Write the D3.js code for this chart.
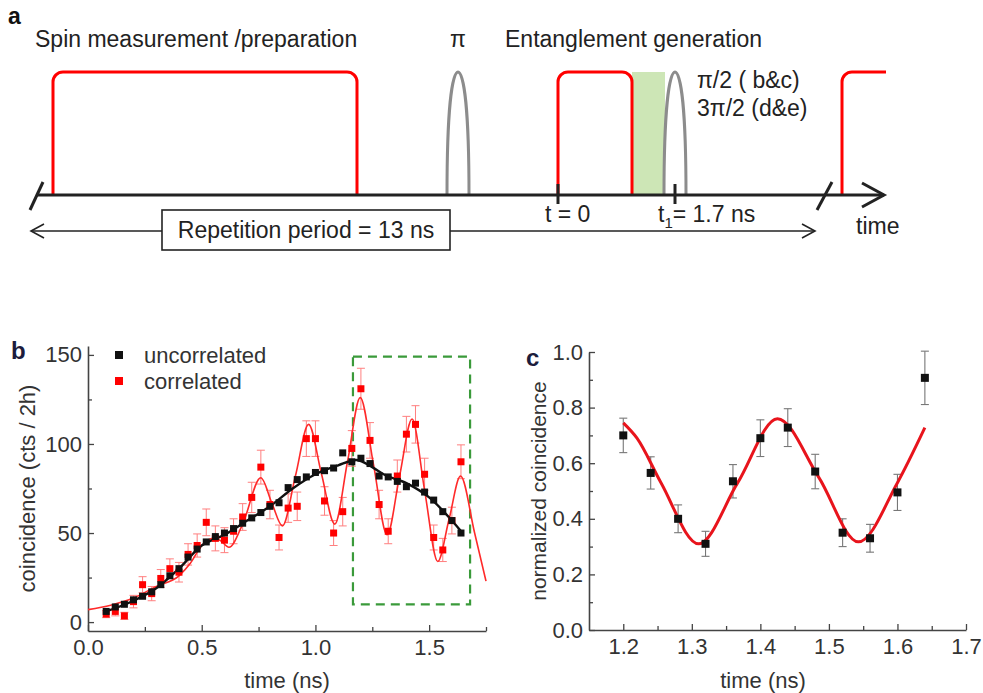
<!DOCTYPE html>
<html><head><meta charset="utf-8">
<script src="https://cdn.jsdelivr.net/npm/d3@7"></script>
<style>
body{margin:0;background:#fff;}
svg{display:block;font-family:"Liberation Sans",Arial,sans-serif;}
</style></head><body>
<svg id="fig" width="983" height="693"></svg>
<script>
// ---------- panel a: pulse sequence labels ----------
const seqTitles = ["Spin measurement /preparation", "\u03c0", "Entanglement generation"];
const rotationLabels = ["\u03c0/2 ( b&c)", "3\u03c0/2 (d&e)"];
const periodLabel = "Repetition period = 13 ns";

// ---------- panel b: coincidence counts vs time ----------
const timesB = [0.08,0.12,0.16,0.20,0.24,0.28,0.32,0.36,0.40,0.44,0.48,0.52,0.56,0.60,0.64,0.68,0.72,0.76,0.80,0.84,
                0.88,0.92,0.96,1.00,1.04,1.08,1.12,1.16,1.20,1.24,1.28,1.32,1.36,1.40,1.44,1.48,1.52,1.56,1.60,1.64];
const uncorrelated = [6,8.5,10,12.5,14.5,17,21,26,30,36.5,41,45,48,50,52.5,55.5,58.5,61.5,65,67,
                      75.5,80,81.5,84,85,86.5,95,90,92,89,82,81.5,79,76,78,73,68.5,62,57,50];
const correlated = [4.5,6,3.5,11.5,21,16,24.5,30,28,38,43,56,47,46,51,59,70,87,66,47.5,
                    64,65,103,103,68,50,62,97.5,131,102,66,51,82,105.5,111,83,47.5,40.5,57,90];
const correlatedErr = [2,2.5,2,3.5,4.5,4,5,5.5,5.5,6,6.5,7.5,7,7,7,7.5,8.5,9.5,8,7,
                       8,8,10,10,8,7,8,10,11.5,10,8,7,9,10,10.5,9,7,6.5,7.5,9.5];
// smooth fit through the uncorrelated counts
const uncorrFitT = [0.08,0.2,0.3,0.4,0.5,0.6,0.7,0.8,0.9,1.0,1.1,1.18,1.25,1.3,1.4,1.5,1.6,1.64];
const uncorrFitV = [6,12,19,30,43,49,57,65,75,83,88,91,87,83,78,70,57,51];
// oscillating fit through the correlated counts
const corrFitT = [0,0.10,0.20,0.30,0.40,0.45,0.50,0.55,0.58,0.62,0.68,0.76,0.808,0.855,0.912,0.97,1.027,1.085,
                  1.141,1.197,1.256,1.315,1.37,1.425,1.48,1.538,1.588,1.638,1.70,1.75];
const corrFitV = [7,9.5,13.5,20,26,33,43,47,46,42,55,81,67,54,82,111,83,55,90,126,88,49,82,114,74,34,58,82,50,23];
const zoomWindowT = [1.165, 1.68];
const zoomWindowV = [10, 149];
const ticksBX = [0, 0.5, 1.0, 1.5];
const minorBX = [0.25, 0.75, 1.25, 1.75];
const ticksBY = [0, 50, 100, 150];
const minorBY = [25, 75, 125];
const legendB = ["uncorrelated", "correlated"];

// ---------- panel c: normalized coincidence ----------
const timesC = [1.20,1.24,1.28,1.32,1.36,1.40,1.44,1.48,1.52,1.56,1.60,1.64];
const normCoinc = [0.70,0.565,0.40,0.31,0.535,0.69,0.728,0.57,0.35,0.33,0.495,0.907];
const normErr = [0.062,0.058,0.05,0.045,0.06,0.066,0.068,0.062,0.05,0.05,0.065,0.096];
const fitCT = [1.20,1.22,1.255,1.31,1.367,1.425,1.485,1.543,1.60,1.64];
const fitCV = [0.745,0.69,0.53,0.31,0.53,0.76,0.55,0.317,0.53,0.728];
const ticksCX = [1.2,1.3,1.4,1.5,1.6,1.7];
const minorCX = [1.25,1.35,1.45,1.55,1.65];
const ticksCY = [0,0.2,0.4,0.6,0.8,1.0];
const minorCY = [0.1,0.3,0.5,0.7,0.9];

const ink = "#222";
const svg = d3.select("#fig");

// ================= panel a =================
const A = svg.append("g");
const baseY = 195, topY = 72, r = 10;
A.append("text").attr("x", 8).attr("y", 24).attr("font-size", 23).attr("font-weight", "bold")
  .attr("fill", "#111").text("a");
A.append("text").attr("x", 35).attr("y", 47).attr("font-size", 23).attr("fill", ink).text(seqTitles[0]);
A.append("text").attr("x", 458).attr("y", 47).attr("font-size", 23).attr("fill", ink)
  .attr("text-anchor", "middle").text(seqTitles[1]);
A.append("text").attr("x", 505).attr("y", 47).attr("font-size", 23).attr("fill", ink).text(seqTitles[2]);

// shaded detection window
A.append("rect").attr("x", 632).attr("y", topY).attr("width", 33).attr("height", baseY - topY)
  .attr("fill", "#cde6b6");

// optical (red) pulses
function boxPulse(x0, x1) {
  const p = d3.path();
  p.moveTo(x0, baseY); p.lineTo(x0, topY + r);
  p.arcTo(x0, topY, x0 + r, topY, r);
  p.lineTo(x1 - r, topY);
  p.arcTo(x1, topY, x1, topY + r, r);
  p.lineTo(x1, baseY);
  return p.toString();
}
[[53, 357], [558, 632]].forEach(([a, b]) => {
  A.append("path").attr("d", boxPulse(a, b)).attr("fill", "none").attr("stroke", "#f00").attr("stroke-width", 3);
});
{
  const p = d3.path();
  p.moveTo(842, baseY); p.lineTo(842, topY + r); p.arcTo(842, topY, 842 + r, topY, r); p.lineTo(886, topY);
  A.append("path").attr("d", p.toString()).attr("fill", "none").attr("stroke", "#f00").attr("stroke-width", 3);
}
// microwave (grey) pulses
function bell(xc, w) {
  const x0 = xc - w / 2, x1 = xc + w / 2;
  return `M${x0},${baseY} C${x0},${topY + 40} ${xc - 6},${topY} ${xc},${topY} C${xc + 6},${topY} ${x1},${topY + 40} ${x1},${baseY}`;
}
[458, 675].forEach(xc => A.append("path").attr("d", bell(xc, 22)).attr("fill", "none")
  .attr("stroke", "#8c8c8c").attr("stroke-width", 3));

// time axis
A.append("line").attr("x1", 37).attr("x2", 884).attr("y1", baseY).attr("y2", baseY)
  .attr("stroke", ink).attr("stroke-width", 3);
A.append("path").attr("d", "M862,183 L884,195 L862,207").attr("fill", "none")
  .attr("stroke", ink).attr("stroke-width", 3);
[[30, 43], [817, 832]].forEach(([a, b]) => A.append("line").attr("x1", a).attr("y1", 210)
  .attr("x2", b).attr("y2", 182).attr("stroke", ink).attr("stroke-width", 3));
[558, 675].forEach(x => A.append("line").attr("x1", x).attr("x2", x).attr("y1", 184).attr("y2", 204)
  .attr("stroke", ink).attr("stroke-width", 3));
A.append("text").attr("x", 545).attr("y", 222).attr("font-size", 23).attr("fill", ink).text("t = 0");
{
  const t = A.append("text").attr("x", 658).attr("y", 222).attr("font-size", 23).attr("fill", ink);
  t.append("tspan").text("t");
  t.append("tspan").attr("font-size", 15).attr("dy", 6).text("1");
  t.append("tspan").attr("dy", -6).text("= 1.7 ns");
}
A.append("text").attr("x", 697).attr("y", 88).attr("font-size", 23).attr("fill", ink).text(rotationLabels[0]);
A.append("text").attr("x", 697).attr("y", 116).attr("font-size", 23).attr("fill", ink).text(rotationLabels[1]);
A.append("text").attr("x", 856).attr("y", 234).attr("font-size", 23).attr("fill", ink).text("time");

// repetition period arrow
A.append("line").attr("x1", 31).attr("x2", 815).attr("y1", 231).attr("y2", 231)
  .attr("stroke", ink).attr("stroke-width", 1.6);
A.append("path").attr("d", "M44,224 L31,231 L44,238").attr("fill", "none").attr("stroke", ink).attr("stroke-width", 1.6);
A.append("path").attr("d", "M802,224 L815,231 L802,238").attr("fill", "none").attr("stroke", ink).attr("stroke-width", 1.6);
A.append("rect").attr("x", 162).attr("y", 210).attr("width", 288).attr("height", 40)
  .attr("fill", "#fff").attr("stroke", ink).attr("stroke-width", 1.6);
A.append("text").attr("x", 306).attr("y", 238).attr("font-size", 23).attr("fill", ink)
  .attr("text-anchor", "middle").text(periodLabel);

// ================= shared axis helper =================
function axes(g, x, y, xt, xm, yt, ym, fx, fy) {
  const y0 = y.range()[0], x0 = x.range()[0];
  const style = s => {
    s.select(".domain").attr("stroke", "#444").attr("stroke-width", 1.6);
    s.selectAll(".tick line").attr("stroke", "#444").attr("stroke-width", 1.3);
    s.selectAll(".tick text").attr("font-size", 22).attr("fill", "#333")
      .attr("font-family", "Liberation Sans, Arial, sans-serif");
  };
  g.append("g").attr("transform", `translate(0,${y0})`)
    .call(d3.axisBottom(x).tickValues(xt).tickFormat(fx).tickSizeInner(-6).tickSizeOuter(0).tickPadding(8)).call(style);
  g.append("g").attr("transform", `translate(0,${y0})`)
    .call(d3.axisBottom(x).tickValues(xm).tickFormat("").tickSizeInner(-4).tickSizeOuter(0))
    .call(style).call(s => s.select(".domain").remove());
  g.append("g").attr("transform", `translate(${x0},0)`)
    .call(d3.axisLeft(y).tickValues(yt).tickFormat(fy).tickSizeInner(-6).tickSizeOuter(0).tickPadding(6)).call(style);
  g.append("g").attr("transform", `translate(${x0},0)`)
    .call(d3.axisLeft(y).tickValues(ym).tickFormat("").tickSizeInner(-4).tickSizeOuter(0))
    .call(style).call(s => s.select(".domain").remove());
}

// ================= panel b =================
const B = svg.append("g");
const xB = d3.scaleLinear().domain([0, 1.75]).range([88, 486]);
const yB = d3.scaleLinear().domain([-5, 155]).range([631, 346]);
axes(B, xB, yB, ticksBX, minorBX, ticksBY, minorBY, d3.format(".1f"), d3.format("d"));
B.append("text").attr("x", 11).attr("y", 359).attr("font-size", 24).attr("font-weight", "bold")
  .attr("fill", "#1c1c3c").text("b");
B.append("text").attr("transform", `translate(35,${(346 + 631) / 2}) rotate(-90)`).attr("text-anchor", "middle")
  .attr("font-size", 22).attr("fill", "#333").text("coincidence (cts / 2h)");
B.append("text").attr("x", 287).attr("y", 688).attr("text-anchor", "middle")
  .attr("font-size", 22).attr("fill", "#333").text("time (ns)");

// zoom window
B.append("rect").attr("x", xB(zoomWindowT[0])).attr("y", yB(zoomWindowV[1]))
  .attr("width", xB(zoomWindowT[1]) - xB(zoomWindowT[0])).attr("height", yB(zoomWindowV[0]) - yB(zoomWindowV[1]))
  .attr("fill", "none").attr("stroke", "#3a9a3a").attr("stroke-width", 2.2).attr("stroke-dasharray", "9,6");

// correlated error bars
const corrRows = timesB.map((t, i) => ({t, v: correlated[i], e: correlatedErr[i]}));
const eb = B.append("g").attr("stroke", "#ff6a6a").attr("stroke-width", 1).attr("opacity", 0.85);
corrRows.forEach(d => {
  const x = xB(d.t), yT = yB(d.v + d.e), yL = yB(d.v - d.e);
  eb.append("line").attr("x1", x).attr("x2", x).attr("y1", yT).attr("y2", yL);
  eb.append("line").attr("x1", x - 4).attr("x2", x + 4).attr("y1", yT).attr("y2", yT);
  eb.append("line").attr("x1", x - 4).attr("x2", x + 4).attr("y1", yL).attr("y2", yL);
});
// fits
const lineB = d3.line().x(d => xB(d[0])).y(d => yB(d[1])).curve(d3.curveMonotoneX);
B.append("path").attr("d", lineB(corrFitT.map((t, i) => [t, corrFitV[i]])))
  .attr("fill", "none").attr("stroke", "#ff2a2a").attr("stroke-width", 1.6);
B.append("path").attr("d", lineB(uncorrFitT.map((t, i) => [t, uncorrFitV[i]])))
  .attr("fill", "none").attr("stroke", "#111").attr("stroke-width", 2.4);
// markers
const sq = 7;
B.append("g").selectAll("rect").data(corrRows).join("rect")
  .attr("x", d => xB(d.t) - sq / 2).attr("y", d => yB(d.v) - sq / 2).attr("width", sq).attr("height", sq)
  .attr("fill", "#f00");
B.append("g").selectAll("rect").data(timesB.map((t, i) => ({t, v: uncorrelated[i]}))).join("rect")
  .attr("x", d => xB(d.t) - sq / 2).attr("y", d => yB(d.v) - sq / 2).attr("width", sq).attr("height", sq)
  .attr("fill", "#111");
// legend
[["#111", legendB[0], 355], ["#f00", legendB[1], 381]].forEach(([c, lab, y]) => {
  B.append("rect").attr("x", 115).attr("y", y - 4).attr("width", 8).attr("height", 8).attr("fill", c);
  B.append("text").attr("x", 144).attr("y", y + 8).attr("font-size", 22).attr("fill", "#333").text(lab);
});

// ================= panel c =================
const C = svg.append("g");
const xC = d3.scaleLinear().domain([1.15, 1.7]).range([589, 966]);
const yC = d3.scaleLinear().domain([0, 1]).range([630, 352]);
axes(C, xC, yC, ticksCX, minorCX, ticksCY, minorCY, d3.format(".1f"), d3.format(".1f"));
C.append("text").attr("x", 526).attr("y", 366).attr("font-size", 24).attr("font-weight", "bold")
  .attr("fill", "#1c1c3c").text("c");
C.append("text").attr("transform", `translate(546,${(352 + 630) / 2}) rotate(-90)`).attr("text-anchor", "middle")
  .attr("font-size", 21).attr("fill", "#333").text("normalized coincidence");
C.append("text").attr("x", 763).attr("y", 688).attr("text-anchor", "middle")
  .attr("font-size", 22).attr("fill", "#333").text("time (ns)");

const rowsC = timesC.map((t, i) => ({t, v: normCoinc[i], e: normErr[i]}));
const ebc = C.append("g").attr("stroke", "#777").attr("stroke-width", 1.1);
rowsC.forEach(d => {
  const x = xC(d.t), yT = yC(d.v + d.e), yL = yC(d.v - d.e);
  ebc.append("line").attr("x1", x).attr("x2", x).attr("y1", yT).attr("y2", yL);
  ebc.append("line").attr("x1", x - 4).attr("x2", x + 4).attr("y1", yT).attr("y2", yT);
  ebc.append("line").attr("x1", x - 4).attr("x2", x + 4).attr("y1", yL).attr("y2", yL);
});
const lineC = d3.line().x(d => xC(d[0])).y(d => yC(d[1])).curve(d3.curveMonotoneX);
C.append("path").attr("d", lineC(fitCT.map((t, i) => [t, fitCV[i]])))
  .attr("fill", "none").attr("stroke", "#e8141c").attr("stroke-width", 3);
C.append("g").selectAll("rect").data(rowsC).join("rect")
  .attr("x", d => xC(d.t) - 4).attr("y", d => yC(d.v) - 4).attr("width", 8).attr("height", 8)
  .attr("fill", "#111");
</script>
</body></html>
